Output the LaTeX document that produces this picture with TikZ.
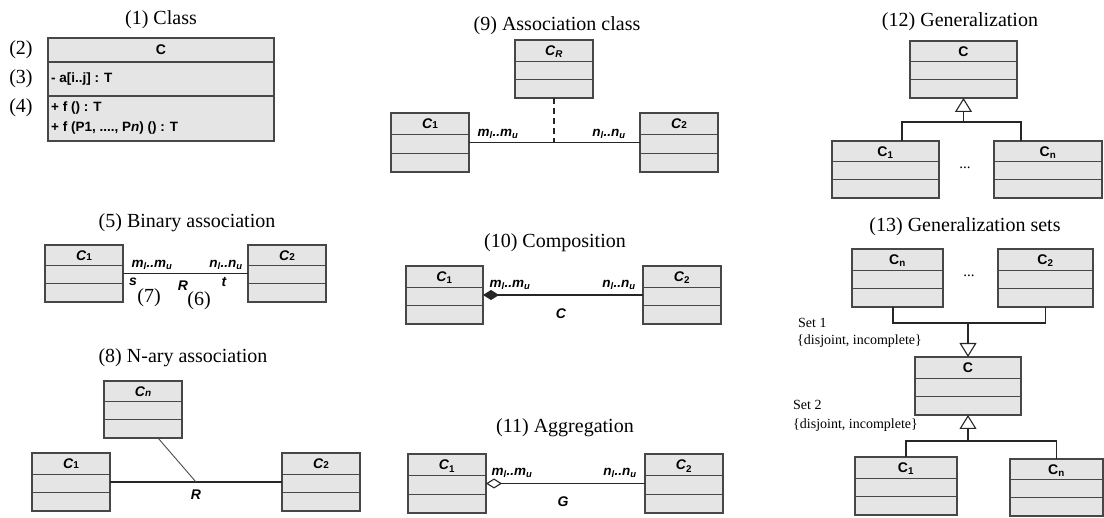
\documentclass[tikz,border=0pt]{standalone}
\usepackage{fontspec}
\setmainfont{Liberation Serif}
\setsansfont{Liberation Sans}
\usetikzlibrary{arrows.meta}
\tikzset{
  clsbox/.style={draw=black!72, fill=black!10, line width=1.3pt, inner sep=0pt, outer sep=0pt},
  divline/.style={draw=black!72, line width=1.2pt},
  clsname/.style={font=\sffamily\bfseries\fontsize{14}{16}\selectfont, inner sep=0pt, anchor=base},
  ttl/.style={font=\fontsize{20}{22}\selectfont, inner sep=0pt},
  mult/.style={font=\sffamily\bfseries\itshape\fontsize{13.5}{15}\selectfont, inner sep=0pt, anchor=south},
  rolelab/.style={font=\sffamily\bfseries\itshape\fontsize{14}{16}\selectfont, inner sep=0pt},
  assoc/.style={draw=black!85, line width=1.1pt},
  setlab/.style={font=\fontsize{14}{16}\selectfont, inner sep=0pt, anchor=west},
  attr/.style={font=\sffamily\bfseries\fontsize{13.5}{15}\selectfont, inner sep=0pt, anchor=west},
  dotlab/.style={font=\fontsize{15}{16}\selectfont, inner sep=0pt},
  gentip/.style={-{Triangle[open, length=14pt, width=17pt]}},
}
\newcommand{\umlc}[6]{%
  \node[clsbox, minimum width=#4pt, minimum height=#5pt, anchor=north west] (#1) at (#2,#3) {};
  \draw[divline] ([yshift={-0.365*#5pt}]#1.north west) -- ([yshift={-0.365*#5pt}]#1.north east);
  \draw[divline] ([yshift={-0.68*#5pt}]#1.north west) -- ([yshift={-0.68*#5pt}]#1.north east);
  \node[clsname] (#1-n) at ([yshift={-0.185*#5pt-5pt}]#1.north) {#6};
}
\newcommand{\smn}[1]{{\fontsize{10}{10}\selectfont #1}}
\begin{document}
\begin{tikzpicture}[x=1pt, y=-1pt]
\useasboundingbox (0,0) rectangle (1104,518);

% (1) Class
\node[ttl] (t1) at (161,20) {(1) Class};
\node[clsbox, minimum width=226pt, minimum height=103pt, anchor=north west] (k) at (48,38) {};
\draw[divline] ([yshift=-24pt]k.north west) -- ([yshift=-24pt]k.north east);
\draw[divline] ([yshift=-58pt]k.north west) -- ([yshift=-58pt]k.north east);
\node[clsname] (kn) at (161,55) {C};
\node[attr] (ka) at (51,79) {- a[i..j] : T};
\node[attr] (kf1) at (51,108) {+ f () : T};
\node[attr] (kf2) at (51,128) {+ f (P1, ...., P\textit{n}) () : T};
\node[ttl] (l2) at (21,50) {(2)};
\node[ttl] (l3) at (21,79) {(3)};
\node[ttl] (l4) at (21,108) {(4)};

% (5) Binary association
\node[ttl] (t5) at (187,223) {(5) Binary association};
\umlc{b1}{45}{245}{78}{57}{\textit{C}\smn{1}}
\umlc{b2}{248}{245}{78}{57}{\textit{C}\smn{2}}
\draw[assoc] (b1.east) -- (b2.west);
\node[mult] (b1m) at (152,270) {m\textsubscript{l}..m\textsubscript{u}};
\node[mult] (b2m) at (226,270) {n\textsubscript{l}..n\textsubscript{u}};
\node[rolelab] (bs) at (133,282) {s};
\node[rolelab] (bR) at (183,286) {R};
\node[rolelab] (bt) at (224,282) {t};
\node[ttl] (b7) at (149,298) {(7)};
\node[ttl] (b6) at (199,301) {(6)};

% (8) N-ary association
\node[ttl] (t8) at (183,358) {(8) N-ary association};
\umlc{n3}{104}{381}{78}{57}{\textit{C}\smn{\textit{n}}}
\umlc{n1}{32}{453}{78}{58}{\textit{C}\smn{1}}
\umlc{n2}{282}{453}{78}{58}{\textit{C}\smn{2}}
\draw[assoc] (n1.east) -- (n2.west);
\coordinate (nR) at (196,482);
\draw[draw=black!70, line width=0.9pt] ([xshift=15pt]n3.south) -- (nR);
\node[rolelab] (nRl) at (196,495) {R};

% (9) Association class
\node[ttl] (t9) at (557,26) {(9) Association class};
\umlc{a3}{515}{40}{78}{58}{\textit{C}\textsubscript{\textit{R}}}
\umlc{a1}{391}{113}{78}{59}{\textit{C}\smn{1}}
\umlc{a2}{640}{113}{78}{59}{\textit{C}\smn{2}}
\draw[assoc] (a1.east) -- (a2.west);
\coordinate (aj) at (554,142.5);
\draw[assoc, dash pattern=on 6pt off 4pt] (a3.south) -- (aj);
\node[mult] (a1m) at (498,139) {m\textsubscript{l}..m\textsubscript{u}};
\node[mult] (a2m) at (609,139) {n\textsubscript{l}..n\textsubscript{u}};

% (10) Composition
\node[ttl] (t10) at (555,243) {(10) Composition};
\umlc{c1}{406}{266}{77}{58}{\textit{C}\textsubscript{1}}
\umlc{c2}{643}{266}{78}{58}{\textit{C}\textsubscript{2}}
\draw[assoc, {Diamond[length=16pt, width=10pt]}-] (c1.east) -- (c2.west);
\node[mult] (c1m) at (510,290) {m\textsubscript{l}..m\textsubscript{u}};
\node[mult] (c2m) at (619,290) {n\textsubscript{l}..n\textsubscript{u}};
\node[rolelab] (cC) at (561,314) {C};

% (11) Aggregation
\node[ttl] (t11) at (565,428) {(11) Aggregation};
\umlc{g1}{408}{454}{78}{59}{\textit{C}\textsubscript{1}}
\umlc{g2}{645}{454}{78}{59}{\textit{C}\textsubscript{2}}
\draw[assoc, {Diamond[open, length=16pt, width=10pt]}-] (g1.east) -- (g2.west);
\node[mult] (g1m) at (512,478) {m\textsubscript{l}..m\textsubscript{u}};
\node[mult] (g2m) at (620,478) {n\textsubscript{l}..n\textsubscript{u}};
\node[rolelab] (gG) at (563,502) {G};

% (12) Generalization
\node[ttl] (t12) at (960,22) {(12) Generalization};
\umlc{h}{910}{41}{107}{57}{C}
\umlc{h1}{832}{141}{107}{57}{C\textsubscript{1}}
\umlc{hn}{994}{141}{108}{57}{C\textsubscript{n}}
\coordinate (hj) at (963.5,122);
\draw[assoc, gentip] (hj) -- (h.south);
\draw[assoc] ([xshift=16.5pt]h1.north) |- (hj) -| ([xshift=-27pt]hn.north);
\node[dotlab] (hd) at (965,168) {...};

% (13) Generalization sets
\node[ttl] (t13) at (965,227) {(13) Generalization sets};
\umlc{s3}{852}{249}{91}{58}{C\textsubscript{n}}
\umlc{s2}{998}{249}{95}{58}{C\textsubscript{2}}
\node[dotlab] (sd) at (969,276) {...};
\umlc{sc}{915}{357}{106}{58}{C}
\coordinate (sj1) at (968,323);
\draw[assoc] ([xshift=-4.5pt]s3.south) |- (sj1) -| (s2.south);
\draw[assoc, gentip] (sj1) -- (sc.north);
\umlc{s1}{855}{457}{102}{58}{C\textsubscript{1}}
\umlc{sn}{1010}{459}{93}{57}{C\textsubscript{n}}
\coordinate (sj2) at (968,441);
\draw[assoc, gentip] (sj2) -- (sc.south);
\draw[assoc] (s1.north) |- (sj2) -| (sn.north);
\node[setlab] (set1) at (798,323) {Set 1};
\node[setlab] (set1b) at (797,341) {\{disjoint, incomplete\}};
\node[setlab] (set2) at (793,405) {Set 2};
\node[setlab] (set2b) at (793,425) {\{disjoint, incomplete\}};
\end{tikzpicture}
\end{document}
